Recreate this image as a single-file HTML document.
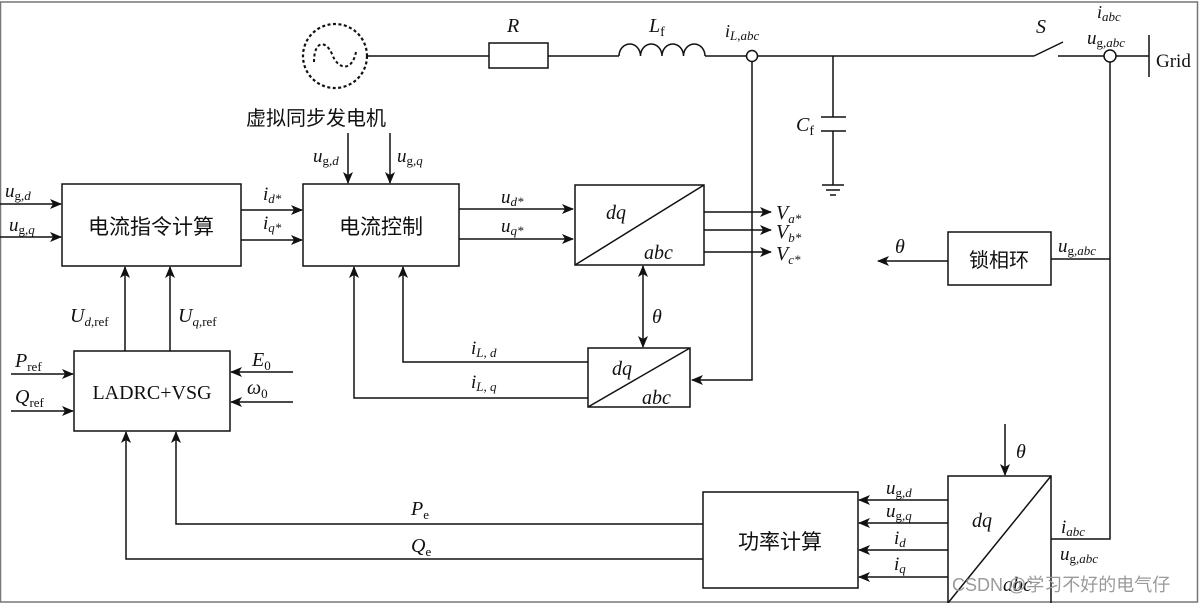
<!DOCTYPE html>
<html><head><meta charset="utf-8">
<style>
html,body{margin:0;padding:0;background:#fff;}
svg{display:block;}
text{font-family:"Liberation Serif","Noto Serif CJK SC",serif;fill:#111;}
.i{font-style:italic;}
.cn{font-family:"Liberation Serif","Noto Sans CJK SC",sans-serif;}
</style></head><body>
<svg width="1199" height="603" viewBox="0 0 1199 603" xmlns="http://www.w3.org/2000/svg">
<defs>
<marker id="a" markerWidth="12" markerHeight="10" refX="11" refY="5" orient="auto" markerUnits="userSpaceOnUse">
<path d="M0,0 L12,5 L0,10 L3,5 Z" fill="#111"/></marker>
<marker id="s" markerWidth="12" markerHeight="10" refX="1" refY="5" orient="auto" markerUnits="userSpaceOnUse">
<path d="M12,0 L0,5 L12,10 L9,5 Z" fill="#111"/></marker>
</defs>
<rect x="0.5" y="2" width="1197" height="600" fill="none" stroke="#777" stroke-width="1.5"/>
<g stroke="#111" stroke-width="1.5" fill="none">
<circle cx="335" cy="56" r="32" stroke-dasharray="3,2.5" stroke-width="2.2"/>
<path d="M314,62 C314,40 326,40 332,54 C338,70 352,72 356,52" stroke-dasharray="3,2.5" stroke-width="2"/>
<line x1="368" y1="56" x2="489" y2="56"/>
<rect x="489" y="43" width="59" height="25"/>
<line x1="548" y1="56" x2="619" y2="56"/>
<path d="M619,56 a10.7,12 0 0 1 21.5,0 a10.7,12 0 0 1 21.5,0 a10.7,12 0 0 1 21.5,0 a10.7,12 0 0 1 21.5,0"/>
<line x1="705" y1="56" x2="746" y2="56"/>
<circle cx="752" cy="56" r="5.5"/>
<line x1="758" y1="56" x2="1034" y2="56"/>
<line x1="1034" y1="56" x2="1063" y2="42"/>
<line x1="1058" y1="56" x2="1104" y2="56"/>
<circle cx="1110" cy="56" r="6"/>
<line x1="1116" y1="56" x2="1149" y2="56"/>
<line x1="1149" y1="35" x2="1149" y2="77"/>
<line x1="833" y1="56" x2="833" y2="117"/>
<line x1="821" y1="117" x2="846" y2="117"/>
<line x1="821" y1="131" x2="846" y2="131"/>
<line x1="833" y1="131" x2="833" y2="185"/>
<line x1="822" y1="185" x2="844" y2="185"/>
<line x1="826" y1="190" x2="840" y2="190"/>
<line x1="830" y1="195" x2="836" y2="195"/>
<polyline points="752,62 752,380 692,380" marker-end="url(#a)"/>
<polyline points="1110,62 1110,539 1051,539"/>
<line x1="1110" y1="259" x2="1051" y2="259"/>
<rect x="62" y="184" width="179" height="82"/>
<rect x="303" y="184" width="156" height="82"/>
<rect x="575" y="185" width="129" height="80"/>
<line x1="575" y1="265" x2="704" y2="185"/>
<rect x="588" y="348" width="102" height="59"/>
<line x1="588" y1="407" x2="690" y2="348"/>
<rect x="948" y="232" width="103" height="53"/>
<rect x="74" y="351" width="156" height="80"/>
<rect x="703" y="492" width="155" height="96"/>
<path d="M948,603 L948,476 L1051,476 L1051,603"/>
<line x1="948" y1="603" x2="1051" y2="476"/>
<line x1="348" y1="133" x2="348" y2="183" marker-end="url(#a)"/>
<line x1="390" y1="133" x2="390" y2="183" marker-end="url(#a)"/>
<line x1="0" y1="204" x2="61" y2="204" marker-end="url(#a)"/>
<line x1="0" y1="237" x2="61" y2="237" marker-end="url(#a)"/>
<line x1="241" y1="210" x2="302" y2="210" marker-end="url(#a)"/>
<line x1="241" y1="240" x2="302" y2="240" marker-end="url(#a)"/>
<line x1="459" y1="209" x2="573" y2="209" marker-end="url(#a)"/>
<line x1="459" y1="239" x2="573" y2="239" marker-end="url(#a)"/>
<line x1="704" y1="212" x2="771" y2="212" marker-end="url(#a)"/>
<line x1="704" y1="230" x2="771" y2="230" marker-end="url(#a)"/>
<line x1="704" y1="252" x2="771" y2="252" marker-end="url(#a)"/>
<line x1="643" y1="266" x2="643" y2="347" marker-start="url(#s)" marker-end="url(#a)"/>
<line x1="948" y1="261" x2="878" y2="261" marker-end="url(#a)"/>
<line x1="125" y1="351" x2="125" y2="267" marker-end="url(#a)"/>
<line x1="170" y1="351" x2="170" y2="267" marker-end="url(#a)"/>
<polyline points="588,362 403,362 403,267" marker-end="url(#a)"/>
<polyline points="588,398 354,398 354,267" marker-end="url(#a)"/>
<line x1="11" y1="374" x2="73" y2="374" marker-end="url(#a)"/>
<line x1="11" y1="411" x2="73" y2="411" marker-end="url(#a)"/>
<line x1="293" y1="372" x2="231" y2="372" marker-end="url(#a)"/>
<line x1="293" y1="402" x2="231" y2="402" marker-end="url(#a)"/>
<polyline points="703,524 176,524 176,432" marker-end="url(#a)"/>
<polyline points="703,559 126,559 126,432" marker-end="url(#a)"/>
<line x1="1005" y1="424" x2="1005" y2="475" marker-end="url(#a)"/>
<line x1="948" y1="500" x2="859" y2="500" marker-end="url(#a)"/>
<line x1="948" y1="523" x2="859" y2="523" marker-end="url(#a)"/>
<line x1="948" y1="550" x2="859" y2="550" marker-end="url(#a)"/>
<line x1="948" y1="577" x2="859" y2="577" marker-end="url(#a)"/>
</g>
<g font-size="20">
<text x="507" y="32" class="i">R</text>
<text x="649" y="32" class="i">L<tspan font-size="14" font-style="normal" dy="4">f</tspan></text>
<text x="725" y="37" class="i" font-size="18">i<tspan font-size="13" dy="3">L,abc</tspan></text>
<text x="1036" y="33" class="i">S</text>
<text x="1097" y="18" class="i" font-size="18">i<tspan font-size="13" dy="3">abc</tspan></text>
<text x="1087" y="44" class="i" font-size="19">u<tspan font-size="13" font-style="normal" dy="3">g,</tspan><tspan font-size="13" font-style="italic">abc</tspan></text>
<text x="1156" y="67" font-size="19">Grid</text>
<text x="796" y="131" class="i">C<tspan font-size="14" font-style="normal" dy="4">f</tspan></text>
<text x="246" y="125" class="cn" font-size="20">虚拟同步发电机</text>
<text x="313" y="162" class="i" font-size="19">u<tspan font-size="13" font-style="normal" dy="3">g,</tspan><tspan font-size="13" font-style="italic">d</tspan></text>
<text x="397" y="162" class="i" font-size="19">u<tspan font-size="13" font-style="normal" dy="3">g,</tspan><tspan font-size="13" font-style="italic">q</tspan></text>
<text x="5" y="197" class="i" font-size="19">u<tspan font-size="13" font-style="normal" dy="3">g,</tspan><tspan font-size="13" font-style="italic">d</tspan></text>
<text x="9" y="231" class="i" font-size="19">u<tspan font-size="13" font-style="normal" dy="3">g,</tspan><tspan font-size="13" font-style="italic">q</tspan></text>
<text x="151" y="234" class="cn" text-anchor="middle" font-size="21">电流指令计算</text>
<text x="381" y="234" class="cn" text-anchor="middle" font-size="21">电流控制</text>
<text x="263" y="200" class="i" font-size="19">i<tspan font-size="13" dy="3">d*</tspan></text>
<text x="263" y="229" class="i" font-size="19">i<tspan font-size="13" dy="3">q*</tspan></text>
<text x="501" y="203" class="i" font-size="19">u<tspan font-size="13" dy="3">d*</tspan></text>
<text x="501" y="232" class="i" font-size="19">u<tspan font-size="13" dy="3">q*</tspan></text>
<text x="606" y="219" class="i" font-size="20">dq</text>
<text x="644" y="259" class="i" font-size="20">abc</text>
<text x="776" y="219" class="i" font-size="20">V<tspan font-size="13" dy="4">a*</tspan></text>
<text x="776" y="238" class="i" font-size="20">V<tspan font-size="13" dy="4">b*</tspan></text>
<text x="776" y="260" class="i" font-size="20">V<tspan font-size="13" dy="4">c*</tspan></text>
<text x="652" y="323" class="i" font-size="20">θ</text>
<text x="895" y="253" class="i" font-size="20">θ</text>
<text x="999" y="267" class="cn" text-anchor="middle" font-size="20">锁相环</text>
<text x="1058" y="252" class="i" font-size="19">u<tspan font-size="13" font-style="normal" dy="3">g,</tspan><tspan font-size="13" font-style="italic">abc</tspan></text>
<text x="612" y="375" class="i" font-size="20">dq</text>
<text x="642" y="404" class="i" font-size="20">abc</text>
<text x="471" y="354" class="i" font-size="19">i<tspan font-size="13" dy="3">L, d</tspan></text>
<text x="471" y="388" class="i" font-size="19">i<tspan font-size="13" dy="3">L, q</tspan></text>
<text x="70" y="322" class="i" font-size="20">U<tspan font-size="13" dy="4">d</tspan><tspan font-size="13" font-style="normal">,ref</tspan></text>
<text x="178" y="322" class="i" font-size="20">U<tspan font-size="13" dy="4">q</tspan><tspan font-size="13" font-style="normal">,ref</tspan></text>
<text x="15" y="367" class="i" font-size="20">P<tspan font-size="13" font-style="normal" dy="4">ref</tspan></text>
<text x="15" y="403" class="i" font-size="20">Q<tspan font-size="13" font-style="normal" dy="4">ref</tspan></text>
<text x="152" y="399" text-anchor="middle" font-size="20">LADRC+VSG</text>
<text x="252" y="366" class="i" font-size="20">E<tspan font-size="13" font-style="normal" dy="4">0</tspan></text>
<text x="247" y="394" class="i" font-size="20">ω<tspan font-size="13" font-style="normal" dy="4">0</tspan></text>
<text x="411" y="515" class="i" font-size="20">P<tspan font-size="13" font-style="normal" dy="4">e</tspan></text>
<text x="411" y="552" class="i" font-size="20">Q<tspan font-size="13" font-style="normal" dy="4">e</tspan></text>
<text x="780" y="549" class="cn" text-anchor="middle" font-size="21">功率计算</text>
<text x="1016" y="458" class="i" font-size="20">θ</text>
<text x="886" y="494" class="i" font-size="19">u<tspan font-size="13" font-style="normal" dy="3">g,</tspan><tspan font-size="13" font-style="italic">d</tspan></text>
<text x="886" y="517" class="i" font-size="19">u<tspan font-size="13" font-style="normal" dy="3">g,</tspan><tspan font-size="13" font-style="italic">q</tspan></text>
<text x="894" y="544" class="i" font-size="19">i<tspan font-size="13" dy="3">d</tspan></text>
<text x="894" y="570" class="i" font-size="19">i<tspan font-size="13" dy="3">q</tspan></text>
<text x="972" y="527" class="i" font-size="20">dq</text>
<text x="1003" y="591" class="i" font-size="20">abc</text>
<text x="1061" y="533" class="i" font-size="19">i<tspan font-size="13" dy="3">abc</tspan></text>
<text x="1060" y="560" class="i" font-size="19">u<tspan font-size="13" font-style="normal" dy="3">g,</tspan><tspan font-size="13" font-style="italic">abc</tspan></text>
<text x="952" y="591" font-size="18" style="fill:#9a9a9a;font-family:'Liberation Sans','Noto Sans CJK SC',sans-serif">CSDN @学习不好的电气仔</text>
</g>
</svg>
</body></html>
